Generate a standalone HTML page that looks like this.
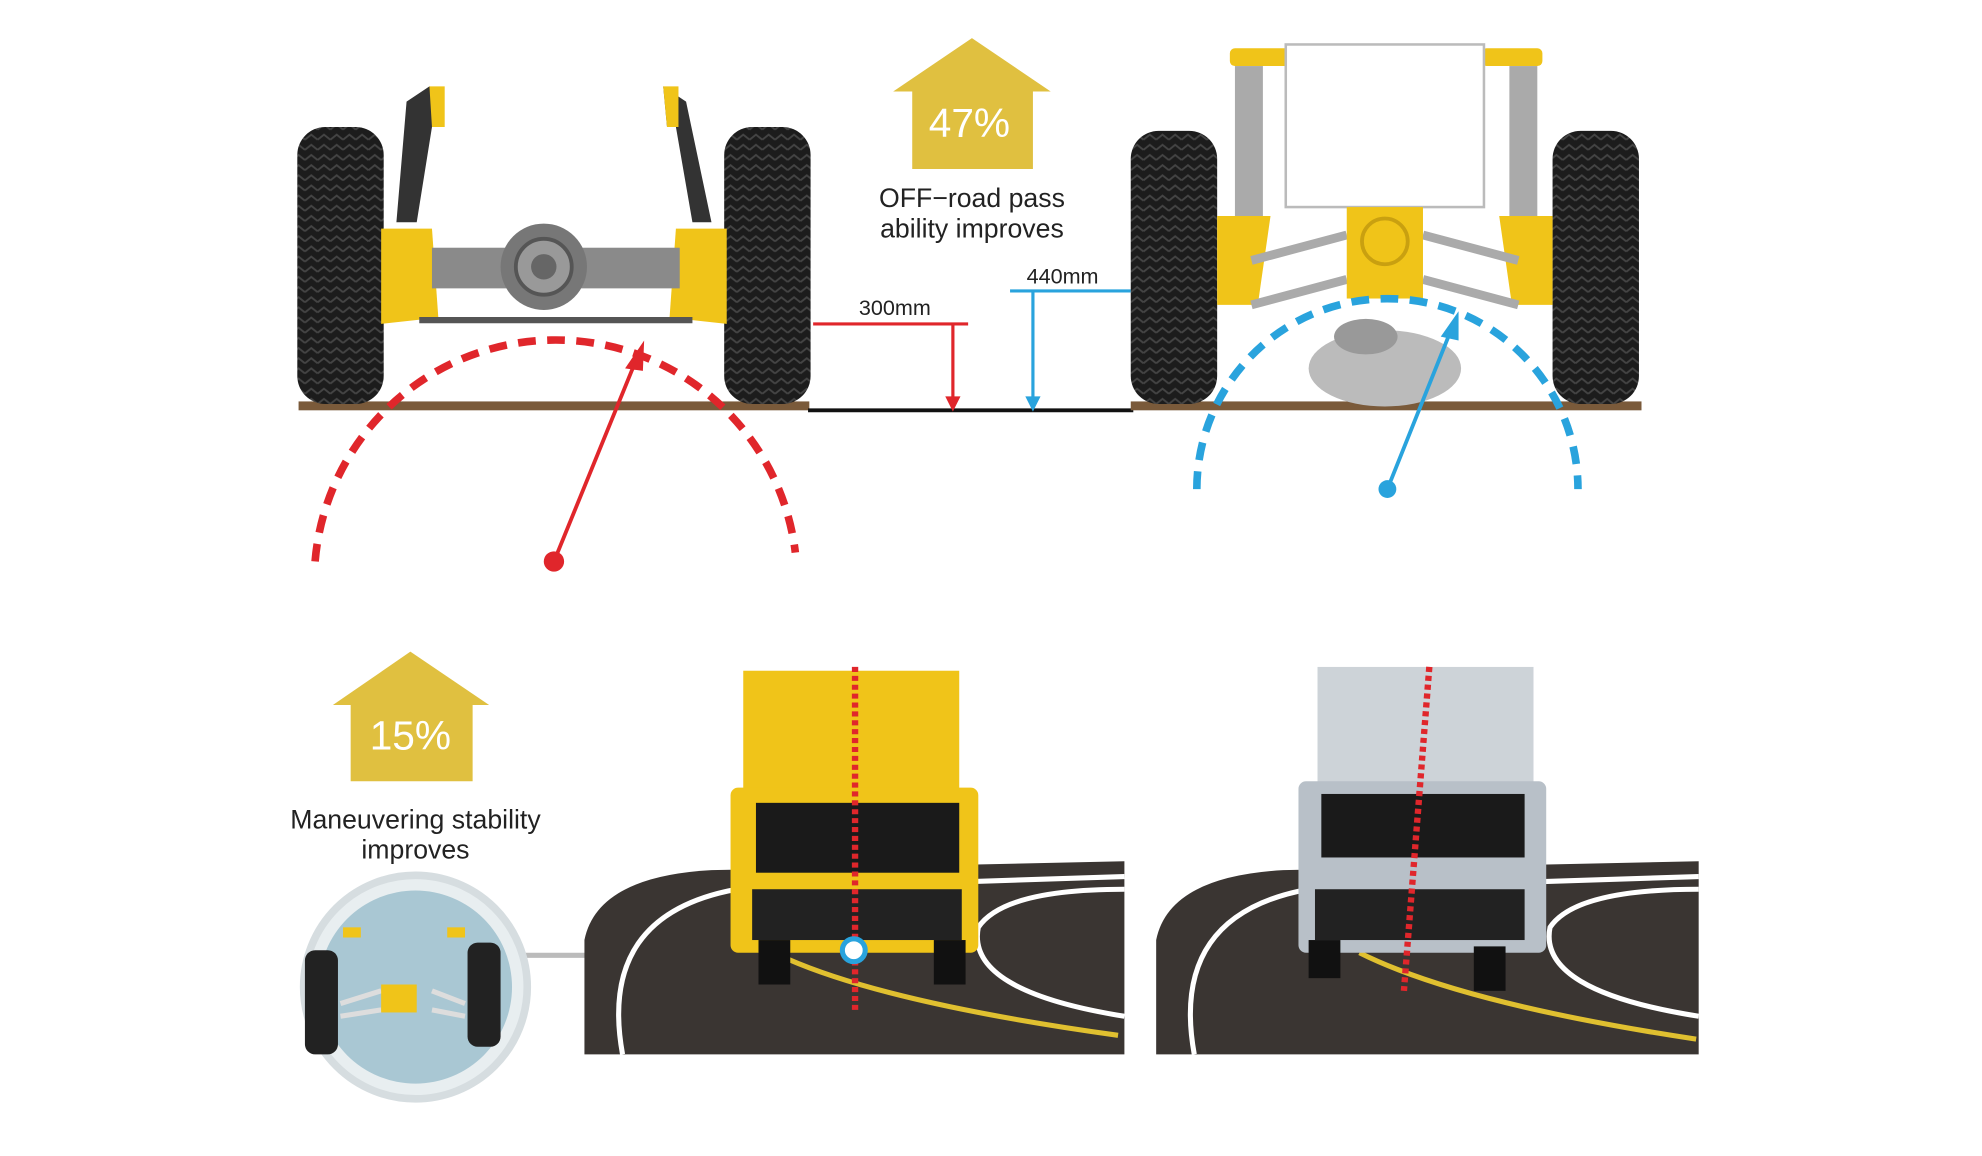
<!DOCTYPE html>
<html><head><meta charset="utf-8"><style>
html,body{margin:0;padding:0;background:#fff;}
svg{display:block;}
text{font-family:"Liberation Sans",sans-serif;}
</style></head><body>
<svg width="1982" height="1156" viewBox="0 0 1560 910" preserveAspectRatio="none" xmlns="http://www.w3.org/2000/svg">
<defs>
<pattern id="tread" width="10" height="8" patternUnits="userSpaceOnUse"><rect width="10" height="8" fill="#1c1c1c"/><path d="M0 6 L5 2 L10 6" stroke="#444" stroke-width="1.5" fill="none"/></pattern>
</defs>
<rect x="235" y="316" width="402" height="7" fill="#7a5a3a"/>
<line x1="636" y1="323" x2="892" y2="323" stroke="#111" stroke-width="3"/>
<rect x="890" y="316" width="402" height="7" fill="#7a5a3a"/>

<rect x="234" y="100" width="68" height="218" rx="22" fill="url(#tread)"/>
<rect x="570" y="100" width="68" height="218" rx="22" fill="url(#tread)"/>
<path d="M300 180 L340 180 L345 250 L300 255 Z" fill="#f0c419"/>
<path d="M572 180 L532 180 L527 250 L572 255 Z" fill="#f0c419"/>
<rect x="340" y="195" width="195" height="32" fill="#8a8a8a"/>
<circle cx="428" cy="210" r="34" fill="#777"/><circle cx="428" cy="210" r="22" fill="#999" stroke="#555" stroke-width="3"/><circle cx="428" cy="210" r="10" fill="#666"/>
<line x1="330" y1="252" x2="545" y2="252" stroke="#555" stroke-width="5"/>
<path d="M320 80 L338 68 L348 72 L340 100 L328 175 L312 175 Z" fill="#333"/>
<path d="M338 68 L350 68 L350 100 L340 100 Z" fill="#f0c419"/>
<path d="M540 80 L522 68 L525 100 L532 100 L545 175 L560 175 Z" fill="#333"/>
<path d="M522 68 L534 68 L534 100 L525 100 Z" fill="#f0c419"/>

<path d="M248 442 A190 190 0 0 1 626 435" fill="none" stroke="#e0262b" stroke-width="6" stroke-dasharray="14 9"/>
<line x1="436" y1="442" x2="500" y2="285" stroke="#e0262b" stroke-width="3"/>
<polygon points="507,268 492,290 506,292" fill="#e0262b"/>
<circle cx="436" cy="442" r="8" fill="#e0262b"/>

<polyline points="640,255 762,255" stroke="#e0262b" stroke-width="2.5" fill="none"/>
<line x1="750" y1="255" x2="750" y2="315" stroke="#e0262b" stroke-width="2.5"/>
<polygon points="744,312 756,312 750,324" fill="#e0262b"/>
<text x="676" y="248" font-size="17" fill="#222">300mm</text>
<line x1="795" y1="229" x2="890" y2="229" stroke="#29a3dd" stroke-width="2.5"/>
<line x1="813" y1="229" x2="813" y2="315" stroke="#29a3dd" stroke-width="2.5"/>
<polygon points="807,312 819,312 813,324" fill="#29a3dd"/>
<text x="808" y="223" font-size="17" fill="#222">440mm</text>

<polygon points="765,30 827,72 813,72 813,133 718,133 718,72 703,72" fill="#e0c040"/>
<text x="763" y="108" font-size="32" fill="#fff" text-anchor="middle">47%</text>
<text x="765" y="163" font-size="21" fill="#222" text-anchor="middle">OFF−road pass</text>
<text x="765" y="187" font-size="21" fill="#222" text-anchor="middle">ability improves</text>

<rect x="890" y="103" width="68" height="215" rx="22" fill="url(#tread)"/>
<rect x="1222" y="103" width="68" height="215" rx="22" fill="url(#tread)"/>
<rect x="968" y="38" width="48" height="14" rx="4" fill="#f0c419"/>
<rect x="1166" y="38" width="48" height="14" rx="4" fill="#f0c419"/>
<rect x="1012" y="35" width="156" height="128" fill="#fff" stroke="#bbb" stroke-width="2"/>
<rect x="972" y="52" width="22" height="120" fill="#aaa"/>
<rect x="1188" y="52" width="22" height="120" fill="#aaa"/>
<path d="M958 170 L1000 170 L990 240 L958 240 Z" fill="#f0c419"/>
<path d="M1222 170 L1180 170 L1190 240 L1222 240 Z" fill="#f0c419"/>
<path d="M985 205 L1060 185 M985 240 L1060 220 M1195 205 L1120 185 M1195 240 L1120 220" stroke="#aaa" stroke-width="7"/>
<rect x="1060" y="163" width="60" height="72" fill="#f0c419"/>
<circle cx="1090" cy="190" r="18" fill="none" stroke="#c9a010" stroke-width="3"/>
<ellipse cx="1090" cy="290" rx="60" ry="30" fill="#bbb"/>
<ellipse cx="1075" cy="265" rx="25" ry="14" fill="#999"/>
<path d="M942 385 A150 150 0 0 1 1242 385" fill="none" stroke="#29a3dd" stroke-width="6" stroke-dasharray="14 9"/>
<line x1="1092" y1="385" x2="1142" y2="260" stroke="#29a3dd" stroke-width="3"/>
<polygon points="1148,245 1134,265 1148,268" fill="#29a3dd"/>
<circle cx="1092" cy="385" r="7" fill="#29a3dd"/>

<polygon points="323,513 385,555 372,555 372,615 276,615 276,555 262,555" fill="#e0c040"/>
<text x="323" y="590" font-size="32" fill="#fff" text-anchor="middle">15%</text>
<text x="327" y="652" font-size="21" fill="#222" text-anchor="middle">Maneuvering stability</text>
<text x="327" y="676" font-size="21" fill="#222" text-anchor="middle">improves</text>

<line x1="410" y1="752" x2="470" y2="752" stroke="#bbb" stroke-width="4"/>
<circle cx="327" cy="777" r="88" fill="#e8eef0" stroke="#d6dde0" stroke-width="6"/>
<circle cx="327" cy="777" r="76" fill="#a9c7d3"/>
<rect x="240" y="748" width="26" height="82" rx="8" fill="#222"/>
<rect x="368" y="742" width="26" height="82" rx="8" fill="#222"/>
<path d="M268 790 L300 780 M268 800 L300 795 M366 790 L340 780 M366 800 L340 795" stroke="#ddd" stroke-width="4"/>
<rect x="300" y="775" width="28" height="22" fill="#f0c419"/>
<rect x="270" y="730" width="14" height="8" fill="#f0c419"/><rect x="352" y="730" width="14" height="8" fill="#f0c419"/>

<path d="M460 830 L460 740 Q470 690 560 685 L885 678 L885 830 Z" fill="#3a3532"/>
<path d="M490 830 Q470 720 580 700 L885 690" fill="none" stroke="#fff" stroke-width="4"/>
<path d="M885 800 Q760 780 770 730 Q790 700 885 700" fill="none" stroke="#fff" stroke-width="4"/>
<path d="M620 755 Q700 790 880 815" fill="none" stroke="#e0c030" stroke-width="4"/>
<rect x="585" y="528" width="170" height="110" fill="#f0c419"/>
<rect x="575" y="620" width="195" height="130" rx="6" fill="#f0c419"/>
<rect x="595" y="632" width="160" height="55" fill="#1a1a1a"/>
<rect x="592" y="700" width="165" height="40" fill="#222"/>
<rect x="597" y="740" width="25" height="35" fill="#111"/><rect x="735" y="740" width="25" height="35" fill="#111"/>
<line x1="673" y1="525" x2="673" y2="795" stroke="#e0262b" stroke-width="5" stroke-dasharray="4 3"/>
<circle cx="672" cy="748" r="9" fill="#fff" stroke="#29a3dd" stroke-width="4"/>

<path d="M910 830 L910 740 Q920 690 1010 685 L1337 678 L1337 830 Z" fill="#3a3532"/>
<path d="M940 830 Q920 720 1030 700 L1337 690" fill="none" stroke="#fff" stroke-width="4"/>
<path d="M1337 800 Q1210 780 1220 730 Q1240 700 1337 700" fill="none" stroke="#fff" stroke-width="4"/>
<path d="M1070 750 Q1150 790 1335 818" fill="none" stroke="#e0c030" stroke-width="4"/>
<rect x="1037" y="525" width="170" height="110" fill="#cdd3d8"/>
<rect x="1022" y="615" width="195" height="135" rx="6" fill="#b8c0c8"/>
<rect x="1040" y="625" width="160" height="50" fill="#1a1a1a"/>
<rect x="1035" y="700" width="165" height="40" fill="#222"/>
<rect x="1030" y="740" width="25" height="30" fill="#111"/><rect x="1160" y="745" width="25" height="35" fill="#111"/>
<line x1="1125" y1="525" x2="1105" y2="780" stroke="#e0262b" stroke-width="5" stroke-dasharray="4 3"/>
</svg>
</body></html>
